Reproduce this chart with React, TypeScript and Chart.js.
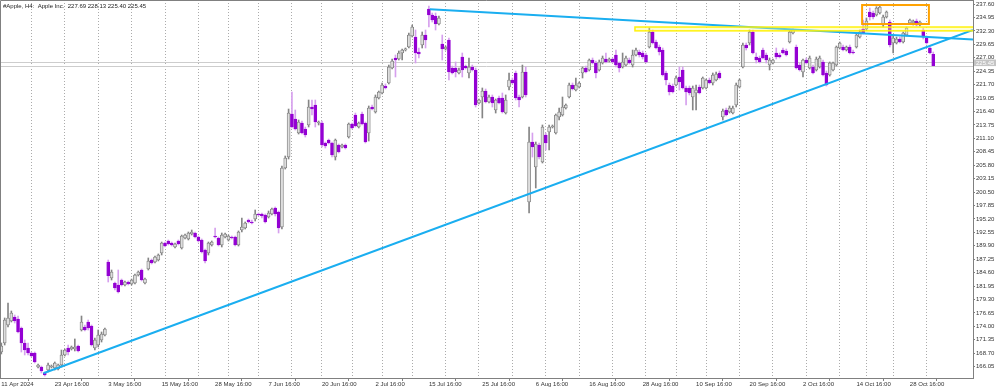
import React, { useEffect, useRef } from 'react';
import { Chart, registerables } from 'chart.js';

Chart.register(...registerables);

// ---- OHLC values (Apple Inc., H4) ----
const opens = [
  168.94,170.72,174.27,175.06,175.85,175.45,173.68,170.72,169.73,168.74,
  168.74,165.98,165.98,164.80,165.39,165.98,165.78,165.58,166.38,168.35,
  169.73,169.53,169.53,170.12,173.28,173.87,174.86,174.07,169.73,170.32,
  171.31,172.29,186.70,183.54,182.55,182.16,183.15,182.16,182.75,182.36,
  182.55,184.13,185.12,182.55,185.32,187.09,186.70,187.09,188.47,190.45,
  190.84,190.45,189.66,190.84,189.46,191.43,191.24,192.22,192.42,191.63,
  191.04,189.07,188.47,190.05,191.83,191.43,190.05,191.63,191.04,191.63,
  191.63,190.05,193.01,193.41,194.98,194.59,195.18,196.17,196.17,195.97,
  195.58,196.17,197.35,196.56,193.60,205.24,207.41,215.90,214.91,212.15,
  214.12,212.94,213.73,217.28,217.67,214.12,214.12,210.17,210.77,210.17,
  207.41,209.78,209.39,209.78,211.36,213.92,215.70,213.33,215.90,214.12,
  212.15,217.28,216.29,219.06,220.04,221.42,222.01,224.97,226.95,226.75,
  227.93,228.56,229.12,231.29,231.09,228.13,229.51,231.48,236.61,235.43,
  235.23,233.65,229.71,228.72,230.50,224.97,224.97,223.99,227.14,225.37,
  223.99,225.17,224.58,218.07,219.25,220.43,218.27,219.25,216.69,219.06,
  219.06,216.09,221.22,222.61,223.99,219.25,219.25,224.18,198.54,210.37,
  205.44,209.78,206.43,211.75,212.35,213.33,212.15,215.30,215.70,217.08,
  219.25,221.62,220.63,221.22,223.99,224.97,224.58,226.55,225.96,224.58,
  225.96,226.75,226.35,226.75,227.54,225.96,225.17,225.56,226.55,225.56,
  227.54,228.13,227.93,227.54,229.12,232.08,230.10,229.12,228.52,223.99,
  221.62,221.42,221.62,223.20,224.58,221.03,221.03,219.25,220.04,221.22,
  221.03,221.03,222.61,222.01,222.61,223.99,215.30,216.69,216.29,216.09,
  217.67,221.22,225.17,229.51,229.91,232.08,227.14,226.95,228.52,227.54,
  225.56,225.96,227.93,227.54,228.52,228.33,230.10,231.88,229.12,225.56,
  224.18,226.55,224.97,225.17,224.58,225.17,226.16,223.99,223.59,224.58,
  225.56,228.92,229.12,228.52,229.12,228.13,229.12,231.09,232.67,232.67,
  236.02,235.83,235.43,235.83,233.46,235.04,234.05,229.91,229.91,230.69,
  230.10,231.48,233.85,233.85,234.25,233.46,232.47,230.89,228.92,227.69,
];
const highs = [
  170.72,175.65,178.61,177.03,176.24,176.04,173.87,171.31,170.72,168.94,
  168.94,166.57,166.18,164.99,166.77,166.38,166.97,166.57,169.33,169.53,
  170.32,170.12,171.51,170.32,176.04,174.27,175.25,174.27,171.70,173.28,
  172.89,173.68,187.09,185.12,182.75,185.12,183.34,182.95,182.95,183.34,
  184.33,184.92,185.32,183.54,187.49,187.29,187.88,188.28,190.64,190.64,
  191.04,190.64,190.45,191.04,192.02,192.22,192.62,193.01,192.62,191.83,
  191.24,189.26,190.64,190.84,193.41,191.63,192.42,192.42,192.02,191.83,
  191.83,192.82,195.38,194.59,195.18,194.98,196.96,196.37,196.37,196.17,
  196.76,197.35,197.55,196.76,205.64,207.61,216.88,220.24,216.69,214.71,
  214.51,213.33,218.66,218.66,218.66,214.51,214.51,210.37,210.96,210.37,
  210.96,209.98,209.98,209.98,214.12,214.12,216.09,214.32,216.29,214.32,
  217.48,217.67,219.65,220.43,222.01,221.82,225.56,226.75,227.54,228.33,
  228.72,228.92,231.87,233.45,232.47,228.92,232.08,232.47,237.21,235.82,
  235.83,235.23,231.48,229.31,230.89,225.36,226.16,224.97,227.93,225.56,
  226.95,225.56,224.97,218.86,221.03,220.83,219.65,219.65,218.86,219.45,
  220.04,219.65,223.99,223.00,224.38,219.65,225.56,225.17,213.33,212.15,
  210.37,210.17,213.73,212.15,213.73,213.73,215.90,217.08,219.25,217.87,
  222.01,222.01,222.99,222.21,225.17,225.36,226.75,226.95,226.35,226.55,
  227.34,227.93,226.95,226.95,228.52,226.16,227.93,227.34,226.95,228.52,
  228.92,228.52,228.33,227.93,232.87,232.47,230.50,229.51,228.92,224.38,
  222.01,221.82,223.39,225.17,225.17,221.42,221.42,221.42,221.62,221.62,
  223.20,222.80,223.00,223.99,224.18,224.38,216.88,217.08,217.48,217.48,
  222.01,222.80,229.91,229.91,232.47,232.47,227.93,227.34,228.92,227.93,
  226.95,226.75,228.92,227.93,228.92,228.72,232.47,232.67,229.51,225.96,
  226.75,226.95,227.34,225.56,227.14,227.34,226.55,224.38,226.16,226.16,
  229.31,230.10,229.51,229.31,229.51,228.52,231.68,232.47,234.44,234.84,
  236.81,236.22,237.07,237.30,235.43,236.22,234.44,231.29,231.09,231.09,
  232.08,233.06,234.64,234.44,234.64,234.25,232.87,231.29,229.31,228.13,
];
const lows = [
  168.55,170.32,173.87,174.86,174.66,172.69,168.94,168.35,168.35,167.95,
  166.77,165.78,164.80,164.20,164.99,165.78,165.39,165.39,165.98,168.15,
  168.35,169.33,169.14,168.94,173.08,173.08,173.28,170.12,169.33,169.93,
  170.91,172.10,182.75,183.15,181.17,180.58,181.96,181.96,182.16,182.16,
  182.36,183.93,182.95,182.36,185.12,186.30,186.50,186.90,188.08,189.66,
  190.05,189.85,189.46,190.05,189.26,191.24,191.04,192.02,191.43,190.64,
  188.47,186.50,188.08,189.85,191.43,189.85,189.66,191.43,190.84,191.24,
  189.85,189.85,192.62,193.21,194.39,194.20,194.79,195.77,195.38,194.39,
  195.38,195.97,195.77,192.42,193.21,205.04,207.02,213.14,212.74,211.95,
  211.95,211.36,213.33,215.70,213.33,213.73,209.39,209.19,209.98,207.41,
  206.82,208.20,209.19,208.99,211.16,212.94,213.33,213.14,213.73,210.17,
  210.57,216.69,216.09,218.86,219.85,220.83,221.82,224.77,223.20,226.55,
  226.55,228.33,228.92,231.09,225.96,226.95,228.92,228.92,233.06,234.05,
  232.47,233.45,226.55,228.52,222.61,223.79,223.20,223.79,223.20,224.77,
  223.00,224.38,217.28,217.87,215.11,218.07,218.07,217.28,216.09,217.87,
  216.09,215.90,220.63,221.82,218.66,217.28,219.06,219.25,196.37,207.41,
  201.30,207.02,206.23,208.80,208.80,213.14,211.95,214.71,215.50,216.88,
  219.06,220.63,220.43,221.03,223.00,224.00,224.38,225.76,223.00,224.38,
  225.76,225.96,226.16,225.96,225.17,224.18,224.97,225.37,225.76,225.17,
  227.34,227.14,226.75,225.96,228.92,229.71,228.72,227.54,223.39,221.62,
  219.65,220.04,221.42,220.63,220.83,217.67,219.65,216.69,216.69,219.85,
  220.83,220.83,221.82,221.62,222.41,222.80,214.71,215.50,216.09,215.90,
  217.28,221.03,224.97,228.52,229.51,227.74,225.96,225.96,226.75,225.96,
  224.58,225.76,226.75,226.95,227.74,227.34,229.91,231.68,224.77,224.38,
  223.20,225.76,224.77,223.79,224.38,224.97,223.39,221.42,223.39,224.38,
  225.37,228.72,228.33,228.33,227.74,227.74,228.92,230.89,231.68,232.47,
  234.44,234.64,235.23,235.63,233.06,234.84,229.12,227.93,229.71,229.91,
  229.91,231.29,233.65,233.46,233.26,233.26,230.69,229.71,227.74,225.40,
];
const closes = [
  170.12,175.25,175.65,176.64,175.06,172.89,170.72,169.33,168.74,168.15,
  166.97,166.38,165.19,164.40,166.38,166.18,166.77,166.38,168.35,169.33,
  168.94,169.93,169.93,169.14,174.86,173.28,173.68,170.32,171.31,172.29,
  172.49,173.48,184.00,184.72,181.57,180.78,182.16,182.75,182.36,183.15,
  184.13,184.72,183.15,183.34,186.90,186.50,187.68,188.08,190.45,189.85,
  190.25,190.05,190.25,190.25,191.83,192.02,192.42,192.62,191.63,190.84,
  188.67,186.90,190.45,190.64,191.63,190.05,192.02,192.22,191.83,191.43,
  190.05,192.62,193.60,194.39,194.59,194.39,196.17,195.97,195.77,194.59,
  196.37,197.15,196.17,193.41,205.24,207.22,216.09,213.33,212.94,214.32,
  212.15,211.75,217.28,216.88,214.32,214.32,209.78,209.58,210.17,207.81,
  210.77,208.40,209.78,209.19,213.92,213.14,213.53,214.12,213.92,210.37,
  217.08,216.88,219.25,220.24,221.62,221.03,225.17,226.35,226.55,227.93,
  228.52,228.66,231.48,233.06,227.93,227.74,231.48,230.50,235.43,234.44,
  233.65,234.84,228.72,229.12,224.18,223.99,224.18,224.58,224.58,224.97,
  225.17,224.58,217.67,218.66,220.43,218.27,219.25,218.07,218.66,218.07,
  216.29,218.66,222.61,222.01,219.06,218.66,224.18,219.65,210.37,209.39,
  209.98,207.41,213.33,210.17,213.33,213.53,215.70,216.29,217.28,217.67,
  221.62,220.83,221.62,222.01,224.97,224.18,226.55,225.96,223.99,226.16,
  226.95,226.16,226.75,226.16,225.56,224.97,226.16,226.95,225.96,227.54,
  228.52,227.54,227.14,226.16,232.08,229.91,228.92,228.13,223.59,222.61,
  220.24,220.24,223.00,222.21,221.03,220.24,220.04,221.03,220.63,220.04,
  223.00,222.61,222.01,223.59,223.79,223.00,216.49,215.70,217.08,217.08,
  221.62,222.61,229.51,228.92,232.08,227.93,226.55,226.16,226.95,226.55,
  226.55,226.55,227.14,227.14,227.93,227.54,232.08,232.47,224.97,224.58,
  226.55,225.96,226.95,223.99,226.75,226.95,223.59,221.62,225.96,225.96,
  229.12,229.91,228.52,229.12,227.93,227.93,231.48,232.08,231.88,234.25,
  235.04,235.04,236.81,237.01,235.04,236.02,229.51,230.89,230.69,230.10,
  231.88,232.87,234.44,234.25,233.46,234.05,231.09,229.91,227.93,225.45,
];

// ---- time axis ----
const labelIndices = [0, 16, 32, 48, 64, 80, 96, 112, 128, 144, 160, 176, 192, 208, 224, 240, 256, 272];
const labelTexts = [
  '11 Apr 2024', '23 Apr 16:00', '3 May 16:00', '15 May 16:00', '28 May 16:00', '7 Jun 16:00',
  '20 Jun 16:00', '2 Jul 16:00', '15 Jul 16:00', '25 Jul 16:00', '6 Aug 16:00', '16 Aug 16:00',
  '28 Aug 16:00', '10 Sep 16:00', '20 Sep 16:00', '2 Oct 16:00', '14 Oct 16:00', '28 Oct 16:00',
];
const weekSeparators = [4, 14, 24, 34, 44, 54, 64, 72, 82, 92, 100, 110, 118, 128, 138, 148, 158, 168, 178, 188, 198, 206, 216, 226, 236, 246, 256, 262, 272];
const xRange = [-0.4, 290.9];

// ---- price axis ----
const priceTicks = [
  166.05, 168.70, 171.35, 174.00, 176.65, 179.30, 181.95, 184.60, 187.25, 189.90,
  192.55, 195.20, 197.85, 200.50, 203.15, 205.80, 208.45, 211.10, 213.75, 216.40,
  219.05, 221.70, 224.35, 227.00, 229.65, 232.30, 234.95, 237.60,
];
const yRange = [163.81, 238.39];

// ---- drawn objects ----
const risingLineX = [12.6, 290.9];
const risingLineY = [164.75, 232.47];
const fallingLineX = [128.3, 290.9];
const fallingLineY = [236.56, 230.60];
const zoneX = [189.7, 290.9];
const zoneY = [232.30, 233.06];
const boxX = [257.7, 277.7];
const boxY = [233.65, 237.40];
const bidAsk = [225.45, 226.15];
const titleText = '#Apple, H4:  Apple Inc.  227.69 228.13 225.40 225.45';

const FONT = 'Liberation Sans';
const TREND = '#1aaef0';

const overlayPlugin = {
  id: 'overlay',
  beforeDatasetsDraw(chart: any) {
    const { ctx, chartArea, scales } = chart;
    const y = scales.y;
    ctx.save();
    ctx.strokeStyle = '#cdcdcd';
    ctx.lineWidth = 1;
    bidAsk.forEach((v) => {
      const py = Math.round(y.getPixelForValue(v)) + 0.5;
      ctx.beginPath();
      ctx.moveTo(chartArea.left, py);
      ctx.lineTo(chartArea.right, py);
      ctx.stroke();
    });
    ctx.restore();
  },
  afterDatasetsDraw(chart: any) {
    const { ctx, chartArea, scales } = chart;
    const x = scales.x;
    const y = scales.y;
    ctx.save();
    ctx.beginPath();
    ctx.rect(chartArea.left, chartArea.top, chartArea.right - chartArea.left, chartArea.bottom - chartArea.top);
    ctx.clip();
    // yellow zone
    const zx0 = x.getPixelForValue(zoneX[0]);
    const zx1 = x.getPixelForValue(zoneX[1]) + 4;
    const zy0 = y.getPixelForValue(zoneY[1]);
    const zy1 = y.getPixelForValue(zoneY[0]);
    ctx.fillStyle = 'rgba(255,255,120,0.35)';
    ctx.fillRect(zx0, zy0, zx1 - zx0, zy1 - zy0);
    ctx.strokeStyle = 'rgba(255,240,0,0.95)';
    ctx.lineWidth = 1.5;
    ctx.strokeRect(zx0, zy0, zx1 - zx0, zy1 - zy0);
    // orange box
    const bx0 = x.getPixelForValue(boxX[0]);
    const bx1 = x.getPixelForValue(boxX[1]);
    const by0 = y.getPixelForValue(boxY[1]);
    const by1 = y.getPixelForValue(boxY[0]);
    ctx.strokeStyle = '#ffa200';
    ctx.lineWidth = 2;
    ctx.strokeRect(bx0, by0, bx1 - bx0, by1 - by0);
    ctx.restore();
  },
  afterDraw(chart: any) {
    const { ctx, chartArea, scales } = chart;
    const y = scales.y;
    ctx.save();
    // frame
    ctx.strokeStyle = '#808080';
    ctx.lineWidth = 1;
    ctx.beginPath();
    ctx.moveTo(0.5, chartArea.bottom);
    ctx.lineTo(0.5, 0.5);
    ctx.lineTo(chartArea.right, 0.5);
    ctx.stroke();
    // title
    ctx.fillStyle = '#222';
    ctx.font = `6px "${FONT}"`;
    ctx.textBaseline = 'alphabetic';
    ctx.textAlign = 'left';
    ctx.fillText(titleText, 3, 8);
    // current price label
    const pyBid = y.getPixelForValue(bidAsk[0]);
    const pyAsk = y.getPixelForValue(bidAsk[1]);
    const top = pyAsk - 2.5;
    const bottom = pyBid + 0.5;
    ctx.fillStyle = '#c4c4c4';
    ctx.fillRect(chartArea.right + 1, top, 22, bottom - top);
    ctx.fillStyle = '#ffffff';
    ctx.textBaseline = 'middle';
    ctx.fillText(bidAsk[0].toFixed(2), chartArea.right + 3, (top + bottom) / 2 + 0.5);
    ctx.restore();
  },
};

export default function App() {
  const ref = useRef<HTMLCanvasElement>(null);

  useEffect(() => {
    document.body.style.margin = '0';
    const canvas = ref.current;
    if (!canvas) return;
    const idx = closes.map((_, i) => i);
    const up = idx.map((i) => closes[i] >= opens[i]);

    const chart = new Chart(canvas, {
      type: 'bar',
      data: {
        datasets: [
          {
            type: 'line',
            label: 'support',
            data: risingLineX.map((v, i) => ({ x: v, y: risingLineY[i] })),
            borderColor: TREND,
            borderWidth: 2,
            pointRadius: 0,
            xAxisID: 'x',
            yAxisID: 'y',
            order: 0,
          } as any,
          {
            type: 'line',
            label: 'resistance',
            data: fallingLineX.map((v, i) => ({ x: v, y: fallingLineY[i] })),
            borderColor: TREND,
            borderWidth: 2,
            pointRadius: 0,
            xAxisID: 'x',
            yAxisID: 'y',
            order: 0,
          } as any,
          {
            type: 'bar',
            label: 'bodies',
            data: idx.map((i) => ({ x: i, y: [opens[i], closes[i]] })),
            backgroundColor: up.map((u) => (u ? '#dedede' : '#9400d3')),
            borderColor: up.map((u) => (u ? '#7a7a7a' : '#9400d3')),
            borderWidth: 0.8,
            borderSkipped: false,
            barThickness: 3,
            minBarLength: 1,
            grouped: false,
            xAxisID: 'x',
            yAxisID: 'y',
            order: 1,
          } as any,
          {
            type: 'bar',
            label: 'wicks',
            data: idx.map((i) => ({ x: i, y: [lows[i], highs[i]] })),
            backgroundColor: up.map((u) => (u ? '#858585' : '#d6a0ee')),
            borderWidth: 0,
            barThickness: 1,
            grouped: false,
            xAxisID: 'x',
            yAxisID: 'y',
            order: 2,
          } as any,
        ],
      },
      options: {
        responsive: false,
        animation: false,
        devicePixelRatio: 1,
        layout: { padding: 0 },
        plugins: { legend: { display: false }, tooltip: { enabled: false } },
        scales: {
          x: {
            type: 'linear',
            position: 'bottom',
            min: xRange[0],
            max: xRange[1],
            offset: false,
            afterBuildTicks: (s: any) => {
              s.ticks = labelIndices.map((v) => ({ value: v }));
            },
            afterFit: (s: any) => {
              s.height = 11;
              s.paddingLeft = 0;
              s.paddingRight = 0;
            },
            ticks: {
              autoSkip: false,
              maxRotation: 0,
              minRotation: 0,
              align: 'start',
              padding: 0,
              color: '#333',
              font: { family: FONT, size: 6 },
              callback: (_v: any, i: number) => labelTexts[i],
            },
            grid: { drawOnChartArea: false, drawTicks: true, tickLength: 3, tickColor: '#808080' },
            border: { display: true, color: '#808080' },
          },
          xs: {
            type: 'linear',
            position: 'bottom',
            min: xRange[0],
            max: xRange[1],
            offset: false,
            afterBuildTicks: (s: any) => {
              s.ticks = weekSeparators.map((v) => ({ value: v }));
            },
            afterFit: (s: any) => {
              s.height = 0;
              s.paddingLeft = 0;
              s.paddingRight = 0;
            },
            ticks: { display: false },
            grid: { drawOnChartArea: true, drawTicks: false, color: '#ababab', lineWidth: 1 },
            border: { display: false, dash: [1, 2] },
          },
          y: {
            type: 'linear',
            position: 'right',
            min: yRange[0],
            max: yRange[1],
            afterBuildTicks: (s: any) => {
              s.ticks = priceTicks.map((v) => ({ value: v }));
            },
            afterFit: (s: any) => {
              s.width = 27;
              s.paddingTop = 0;
              s.paddingBottom = 0;
            },
            ticks: {
              autoSkip: false,
              padding: 1,
              color: '#333',
              font: { family: FONT, size: 6 },
              callback: (v: any) => Number(v).toFixed(2),
            },
            grid: { drawOnChartArea: false, drawTicks: true, tickLength: 2, tickColor: '#808080' },
            border: { display: true, color: '#808080' },
          },
        },
      } as any,
      plugins: [overlayPlugin],
    });
    return () => chart.destroy();
  }, []);

  return (
    <canvas
      ref={ref}
      width={1000}
      height={389}
      style={{ display: 'block', width: '1000px', height: '389px' }}
    />
  );
}
